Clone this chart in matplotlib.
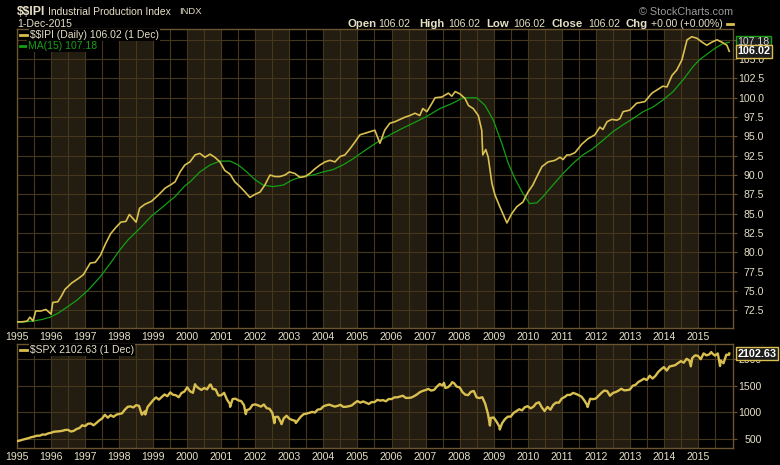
import matplotlib
matplotlib.use('Agg')
import matplotlib.pyplot as plt
from matplotlib.lines import Line2D
from matplotlib.transforms import blended_transform_factory
import numpy as np

plt.rcParams['font.family'] = ['Liberation Sans', 'DejaVu Sans']
plt.rcParams['text.parse_math'] = False

# Industrial production index (decimal year, value)
ipi_t = [1995.00, 1995.15, 1995.30, 1995.38, 1995.47, 1995.55, 1995.70, 1995.85, 1996.00, 1996.05,
         1996.20, 1996.30, 1996.41, 1996.60, 1996.80, 1996.95, 1997.15, 1997.30, 1997.45, 1997.60,
         1997.75, 1997.90, 1998.05, 1998.20, 1998.30, 1998.50, 1998.60, 1998.75, 1998.95, 1999.15,
         1999.35, 1999.50, 1999.64, 1999.79, 1999.93, 2000.08, 2000.23, 2000.37, 2000.52, 2000.67,
         2000.81, 2000.96, 2001.10, 2001.26, 2001.40, 2001.55, 2001.70, 2001.84, 2001.99, 2002.14,
         2002.28, 2002.43, 2002.58, 2002.72, 2002.87, 2003.00, 2003.16, 2003.31, 2003.46, 2003.60,
         2003.75, 2003.90, 2004.05, 2004.19, 2004.34, 2004.49, 2004.63, 2004.78, 2004.93, 2005.07,
         2005.22, 2005.37, 2005.51, 2005.66, 2005.80, 2005.95, 2006.10, 2006.25, 2006.40, 2006.54,
         2006.69, 2006.83, 2006.92, 2007.04, 2007.19, 2007.28, 2007.48, 2007.67, 2007.77, 2007.87,
         2008.01, 2008.16, 2008.26, 2008.40, 2008.55, 2008.65, 2008.68, 2008.77, 2008.84, 2008.95,
         2009.04, 2009.18, 2009.39, 2009.53, 2009.68, 2009.86, 2010.01, 2010.15, 2010.27, 2010.42,
         2010.60, 2010.80, 2010.95, 2011.04, 2011.15, 2011.24, 2011.39, 2011.59, 2011.77, 2011.97,
         2012.12, 2012.21, 2012.33, 2012.47, 2012.62, 2012.71, 2012.80, 2013.00, 2013.20, 2013.44,
         2013.65, 2013.83, 2013.97, 2014.09, 2014.24, 2014.38, 2014.53, 2014.68, 2014.82, 2014.97,
         2015.12, 2015.26, 2015.41, 2015.56, 2015.70, 2015.85, 2015.92]
ipi_v = [71.0, 71.0, 71.1, 71.6, 71.1, 72.4, 72.4, 72.6, 72.0, 73.5,
         73.6, 74.3, 75.2, 76.0, 76.6, 77.1, 78.6, 78.7, 79.6, 81.1,
         82.4, 83.2, 83.9, 84.0, 84.9, 83.9, 85.7, 86.2, 86.6, 87.4,
         88.3, 88.7, 89.1, 90.4, 91.3, 91.7, 92.6, 92.8, 92.3, 92.7,
         92.3, 91.7, 90.6, 90.1, 89.1, 88.5, 87.8, 87.1, 87.5, 87.8,
         88.7, 90.0, 89.8, 89.8, 90.0, 90.4, 90.2, 89.7, 89.8, 90.2,
         90.8, 91.3, 91.7, 91.9, 91.7, 92.4, 92.6, 93.4, 94.3, 95.2,
         95.4, 95.6, 95.8, 94.1, 95.8, 96.7, 96.9, 97.2, 97.5, 97.7,
         98.0, 97.7, 98.6, 98.2, 99.3, 100.0, 100.1, 100.6, 100.2, 100.8,
         100.5, 99.9, 99.0, 98.6, 97.7, 95.8, 92.6, 93.3, 92.3, 88.9,
         87.4, 85.9, 83.8, 85.0, 85.9, 86.5, 87.8, 88.7, 89.8, 91.1,
         91.7, 91.9, 92.3, 92.0, 92.6, 92.6, 92.9, 94.0, 94.7, 95.2,
         96.2, 95.9, 96.9, 97.2, 97.1, 97.3, 98.2, 98.4, 99.3, 99.5,
         100.6, 101.1, 101.5, 101.4, 102.9, 103.6, 104.9, 107.5, 107.9, 107.7,
         107.2, 106.8, 107.2, 107.5, 107.2, 106.8, 106.02]

# MA(15) line
ma_t = [1995.00, 1995.47, 1995.73, 1995.97, 1996.20, 1996.47, 1996.76, 1997.09, 1997.44, 1997.73,
        1998.02, 1998.26, 1998.61, 1998.95, 1999.29, 1999.50, 1999.64, 1999.93, 2000.08, 2000.37,
        2000.67, 2000.96, 2001.26, 2001.50, 2001.75, 2001.99, 2002.23, 2002.52, 2002.82, 2003.10,
        2003.40, 2003.69, 2003.99, 2004.28, 2004.57, 2004.87, 2005.16, 2005.46, 2005.75, 2006.04,
        2006.30, 2006.63, 2007.04, 2007.42, 2007.80, 2008.10, 2008.50, 2008.75, 2008.99, 2009.24,
        2009.43, 2009.63, 2009.86, 2010.06, 2010.27, 2010.45, 2010.74, 2011.04, 2011.33, 2011.62,
        2011.91, 2012.21, 2012.50, 2012.80, 2013.09, 2013.39, 2013.68, 2013.97, 2014.27, 2014.56,
        2014.85, 2015.04, 2015.50, 2015.73, 2015.92]
ma_v = [70.9, 71.1, 71.3, 71.6, 72.1, 72.9, 73.8, 75.1, 76.8, 78.5,
        80.3, 81.6, 83.1, 84.7, 85.9, 86.7, 87.2, 88.6, 89.1, 90.4,
        91.3, 91.8, 91.8, 91.3, 90.4, 89.4, 88.7, 88.5, 88.7, 89.4,
        89.8, 90.0, 90.4, 90.7, 91.3, 92.1, 93.0, 93.9, 94.7, 95.4,
        96.0, 96.7, 97.6, 98.6, 99.3, 100.0, 100.0, 99.0, 97.1, 94.1,
        91.5, 89.5, 87.6, 86.3, 86.4, 87.2, 88.7, 90.2, 91.5, 92.6,
        93.4, 94.5, 95.6, 96.5, 97.3, 98.2, 98.8, 99.7, 100.8, 102.3,
        104.0, 104.9, 106.4, 107.0, 107.18]

# S&P 500, month-end closes Jan 1995 .. Nov 2015
spx_start = 459
spx_monthly = [
    470, 487, 500, 515, 533, 545, 562, 562, 584, 582, 605, 616,
    636, 640, 645, 654, 669, 671, 640, 652, 687, 705, 757, 741,
    786, 791, 757, 801, 848, 885, 954, 899, 947, 915, 955, 970,
    980, 1049, 1102, 1112, 1091, 1134, 1121, 957, 1017, 1099, 1164, 1229,
    1280, 1238, 1286, 1335, 1302, 1373, 1329, 1320, 1283, 1363, 1389, 1469,
    1394, 1366, 1499, 1452, 1421, 1455, 1431, 1518, 1437, 1429, 1315, 1320,
    1366, 1240, 1160, 1249, 1256, 1224, 1211, 1134, 1041, 1060, 1139, 1148,
    1130, 1107, 1147, 1077, 1067, 990, 912, 916, 815, 886, 936, 880,
    856, 841, 848, 917, 964, 975, 990, 1008, 996, 1051, 1058, 1112,
    1131, 1145, 1126, 1107, 1121, 1141, 1102, 1104, 1115, 1130, 1174, 1212,
    1181, 1204, 1181, 1157, 1192, 1191, 1234, 1220, 1229, 1207, 1249, 1248,
    1280, 1281, 1295, 1311, 1270, 1270, 1277, 1304, 1336, 1378, 1401, 1418,
    1438, 1407, 1421, 1482, 1531, 1503, 1455, 1474, 1527, 1549, 1481, 1468,
    1379, 1331, 1323, 1386, 1400, 1280, 1267, 1283, 1165, 969, 896, 903,
    826, 735, 798, 873, 919, 919, 987, 1021, 1057, 1036, 1096, 1115,
    1074, 1104, 1169, 1187, 1089, 1031, 1102, 1049, 1141, 1183, 1181, 1258,
    1286, 1327, 1326, 1364, 1345, 1321, 1292, 1219, 1131, 1253, 1247, 1258,
    1312, 1366, 1408, 1398, 1310, 1362, 1379, 1407, 1441, 1412, 1416, 1426,
    1498, 1515, 1569, 1598, 1631, 1606, 1686, 1633, 1682, 1757, 1806, 1848,
    1783, 1859, 1872, 1884, 1924, 1960, 1931, 2003, 1972, 2018, 2068, 2059,
    1995, 2105, 2068, 2086, 2107, 2063, 2104, 1972, 1920, 2079, 2080]
# intra-month highs / lows visible on the daily line
spx_extra_t = [1998.77, 2000.23, 2000.69, 2001.26, 2001.72, 2002.56, 2002.77, 2003.19,
               2007.54, 2007.78, 2008.89, 2009.18, 2010.50, 2011.76, 2014.79, 2015.39,
               2015.65, 2015.92]
spx_extra_v = [959, 1527, 1520, 1103, 966, 797, 777, 800,
               1553, 1565, 752, 677, 1022, 1099, 1862, 2130,
               1868, 2102.63]

years = list(range(1995, 2016))
shade_years = [1996, 1998, 2000, 2002, 2004, 2006, 2008, 2010, 2012, 2014]

bg = 'black'
shade = '#231c10'
gridc = '#45371d'
spinec = '#6b5530'
txt = '#e6dfc6'
gold = '#d9bf4f'
green = '#14a014'

W, H = 780.0, 465.0


def fx(px):
    return px / W


def fy(py):
    return 1 - py / H


fig = plt.figure(figsize=(7.8, 4.65), dpi=100, facecolor=bg)
ax = fig.add_axes([fx(17), fy(328), fx(733) - fx(17), fy(29) - fy(328)])
ax2 = fig.add_axes([fx(17), fy(448), fx(733) - fx(17), fy(344) - fy(448)])

for a in (ax, ax2):
    a.set_facecolor(bg)
    a.set_xlim(1995, 2016.03)
    for y in shade_years:
        a.axvspan(y, y + 1, color=shade, lw=0, zorder=0)
    a.set_xticks(years)
    a.set_xticklabels([str(y) for y in years])
    a.set_xticks([y + 0.5 for y in years], minor=True)
    a.tick_params(axis='x', which='both', length=0, pad=3, labelsize=7.6, colors=txt)
    a.yaxis.tick_right()
    a.tick_params(axis='y', length=3, width=0.8, color=spinec, labelsize=7.6, labelcolor=txt)
    a.grid(True, which='both', color=gridc, lw=0.8)
    a.set_axisbelow(True)
    for s in a.spines.values():
        s.set_color(spinec)
        s.set_linewidth(1)

# main panel
ax.plot(ma_t, ma_v, color=green, lw=0.9, zorder=3)
ax.plot(ipi_t, ipi_v, color=gold, lw=1.2, zorder=4)
ax.set_ylim(70.2, 108.9)
yt = np.arange(72.5, 107.6, 2.5)
ax.set_yticks(yt)
# the 107.5 label sits under the value tags, so it stays blank
ax.set_yticklabels(['%.1f' % v if v < 106 else '' for v in yt])
ax.tick_params(axis='y', pad=19.5)
for lbl in ax.get_yticklabels():
    lbl.set_ha('right')

# lower panel
spx = sorted(zip([1995.0] + [1995 + (i + 1) / 12 for i in range(len(spx_monthly))] + spx_extra_t,
                 [spx_start] + spx_monthly + spx_extra_v))
ax2.plot([p[0] for p in spx], [p[1] for p in spx], color=gold, lw=1.7, zorder=4)
ax2.set_ylim(331, 2281)
ax2.set_yticks([500, 1000, 1500, 2000])
ax2.set_yticklabels(['500', '1000', '1500', '2000'])
ax2.tick_params(axis='y', pad=17.5)
for lbl in ax2.get_yticklabels():
    lbl.set_ha('right')

# value tags on the right
tr = blended_transform_factory(ax.transAxes, ax.transData)
ax.text(1.006, 107.18, '107.18', transform=tr, va='center', ha='left', fontsize=7.6,
        color='#d0d0d0', clip_on=False, zorder=10,
        bbox=dict(boxstyle='square,pad=0.12', fc='#1c1c1c', ec=green, lw=1))
ax.text(1.006, 106.02, '106.02', transform=tr, va='center', ha='left', fontsize=7.8,
        color='white', fontweight='bold', clip_on=False, zorder=11,
        bbox=dict(boxstyle='square,pad=0.12', fc='#1c1c1c', ec=gold, lw=1))
tr2 = blended_transform_factory(ax2.transAxes, ax2.transData)
ax2.text(1.006, 2102.63, '2102.63', transform=tr2, va='center', ha='left', fontsize=7.8,
         color='white', fontweight='bold', clip_on=False, zorder=11,
         bbox=dict(boxstyle='square,pad=0.12', fc='#1c1c1c', ec=gold, lw=1))

# legends inside panels
fig.add_artist(Line2D([fx(20), fx(27)], [fy(35), fy(35)], color=gold, lw=2))
fig.text(fx(30), fy(35), '$$IPI (Daily) 106.02 (1 Dec)', color=txt, fontsize=7.5, va='center',
         bbox=dict(boxstyle='square,pad=0.05', fc=bg, ec='none'))
fig.add_artist(Line2D([fx(20), fx(27)], [fy(46), fy(46)], color=green, lw=2))
fig.text(fx(28), fy(46), 'MA(15) 107.18', color=green, fontsize=7.5, va='center',
         bbox=dict(boxstyle='square,pad=0.05', fc=bg, ec='none'))
fig.add_artist(Line2D([fx(20), fx(27)], [fy(350), fy(350)], color=gold, lw=2))
fig.text(fx(30), fy(350), '$SPX 2102.63 (1 Dec)', color=txt, fontsize=7.5, va='center',
         bbox=dict(boxstyle='square,pad=0.05', fc=bg, ec='none'))

# header
fig.text(fx(17), fy(12), '$$IPI', color=txt, fontsize=8.8, fontweight='bold', va='center')
fig.text(fx(48), fy(12), 'Industrial Production Index', color=txt, fontsize=7.5, va='center')
fig.text(fx(179), fy(12), 'INDX', color=txt, fontsize=6.8, va='center')
fig.text(fx(17), fy(24), '1-Dec-2015', color=txt, fontsize=7.6, va='center')
fig.text(fx(733), fy(12), '\u00a9 StockCharts.com', color='#9a9a9a', fontsize=7.8,
         va='center', ha='right')

hdr = [(348, 'Open', True), (378, '106.02', False), (419, 'High', True), (448, '106.02', False),
       (486, 'Low', True), (513, '106.02', False), (552, 'Close', True), (588, '106.02', False),
       (626, 'Chg', True), (651, '+0.00 (+0.00%)', False)]
for px, s, b in hdr:
    fig.text(fx(px), fy(24), s, color=txt, fontsize=8.2 if b else 7.6,
             fontweight='bold' if b else 'normal', va='center')
fig.add_artist(Line2D([fx(727), fx(733)], [fy(24), fy(24)], color=gold, lw=2))

fig.savefig('out.png', dpi=100, facecolor=bg)
